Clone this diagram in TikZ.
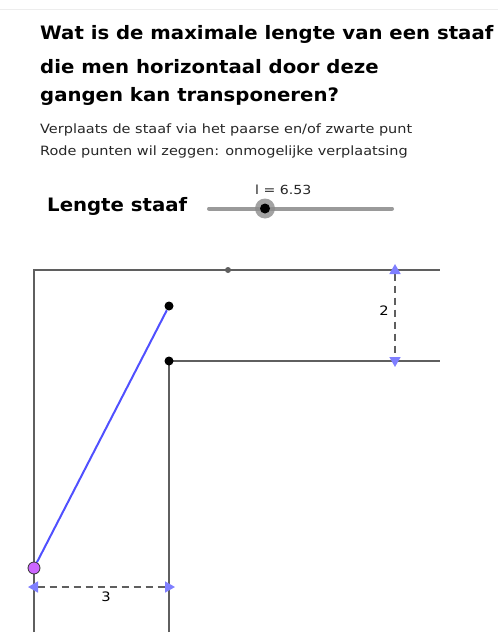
\documentclass[tikz,border=0pt]{standalone}
\usepackage{fontspec}
\setmainfont[FakeStretch=1.13]{DejaVu Sans}
\newfontfamily\headfont[FakeStretch=1.065]{DejaVu Sans Bold}
\usetikzlibrary{arrows.meta}

\definecolor{wallgray}{HTML}{5F5F5F}
\definecolor{slidergray}{HTML}{9A9A9A}
\definecolor{rodblue}{HTML}{5050FF}
\definecolor{tipblue}{HTML}{7F7FFF}
\definecolor{knobpurple}{HTML}{CC66FF}

\begin{document}
\begin{tikzpicture}[x=1pt,y=-1pt,
    txt/.style={anchor=base west,inner sep=0pt},
    head/.style={txt,font=\headfont\fontsize{18.5}{22}\selectfont},
    hint/.style={txt,font=\fontsize{12.8}{15}\selectfont,text=black!85},
    wall/.style={draw=wallgray,line width=2pt},
    dimline/.style={draw=wallgray,line width=1.6pt,dash pattern=on 7pt off 5pt,
      {Triangle[length=10pt,width=11pt,color=tipblue]}-{Triangle[length=10pt,width=11pt,color=tipblue]}},
    dot/.style={circle,fill=black,inner sep=0pt,minimum size=9pt}]
      \useasboundingbox (0,0) rectangle (498,637);
      \draw[black!7,line width=0.6pt] (0,9) -- (498,9);
      % Question and hints
      \node[head] (q1) at (40,39.5) {Wat is de maximale lengte van een staaf};
      \node[head] (q2) at (40,73) {die men horizontaal door deze};
      \node[head] (q3) at (40,101) {gangen kan transponeren?};
      \node[hint] (h1) at (40,133.5) {Verplaats de staaf via het paarse en/of zwarte punt};
      \node[hint] (h2) at (40,155.5) {Rode punten wil zeggen: onmogelijke verplaatsing};
      % Slider
      \node[head] (lab) at (47,211) {Lengte staaf};
      \coordinate (sa) at (209,208.5);
      \coordinate (sb) at (392,208.5);
      \draw[slidergray,line width=4pt,line cap=round] (sa) -- (sb);
      \node[circle,fill=black!45,opacity=0.8,inner sep=0pt,minimum size=20pt] (knob) at (265,208.5) {};
      \node[dot,minimum size=10pt] at (knob) {};
      \node[txt,font=\fontsize{12.5}{14}\selectfont,text=black!85] (lval) at (255,194) {l = 6.53};
      % Corridors
      \draw[wall] (34,632) -- (34,270) -- (440,270);
      \draw[wall] (169,632) -- (169,361) -- (440,361);
      \node[circle,fill=wallgray,inner sep=0pt,minimum size=6pt] (m) at (228,270) {};
      % Widths of the corridors
      \coordinate (d2a) at (395,264);
      \coordinate (d2b) at (395,367);
      \draw[dimline] (d2a) -- (d2b);
      \node[font=\fontsize{13}{15}\selectfont] (w2) at (384,311) {2};
      \coordinate (d3a) at (28,587);
      \coordinate (d3b) at (175,587);
      \draw[dimline] (d3a) -- (d3b);
      \node[font=\fontsize{13}{15}\selectfont] (w3) at (106,597) {3};
      % Rod
      \node[circle,draw=black!80,fill=knobpurple,line width=0.8pt,inner sep=0pt,minimum size=12pt] (pa) at (34,568) {};
      \node[dot] (pb) at (169,306) {};
      \node[dot] (pc) at (169,361) {};
      \draw[rodblue,line width=2pt] (pa) -- (pb);
\end{tikzpicture}
\end{document}
